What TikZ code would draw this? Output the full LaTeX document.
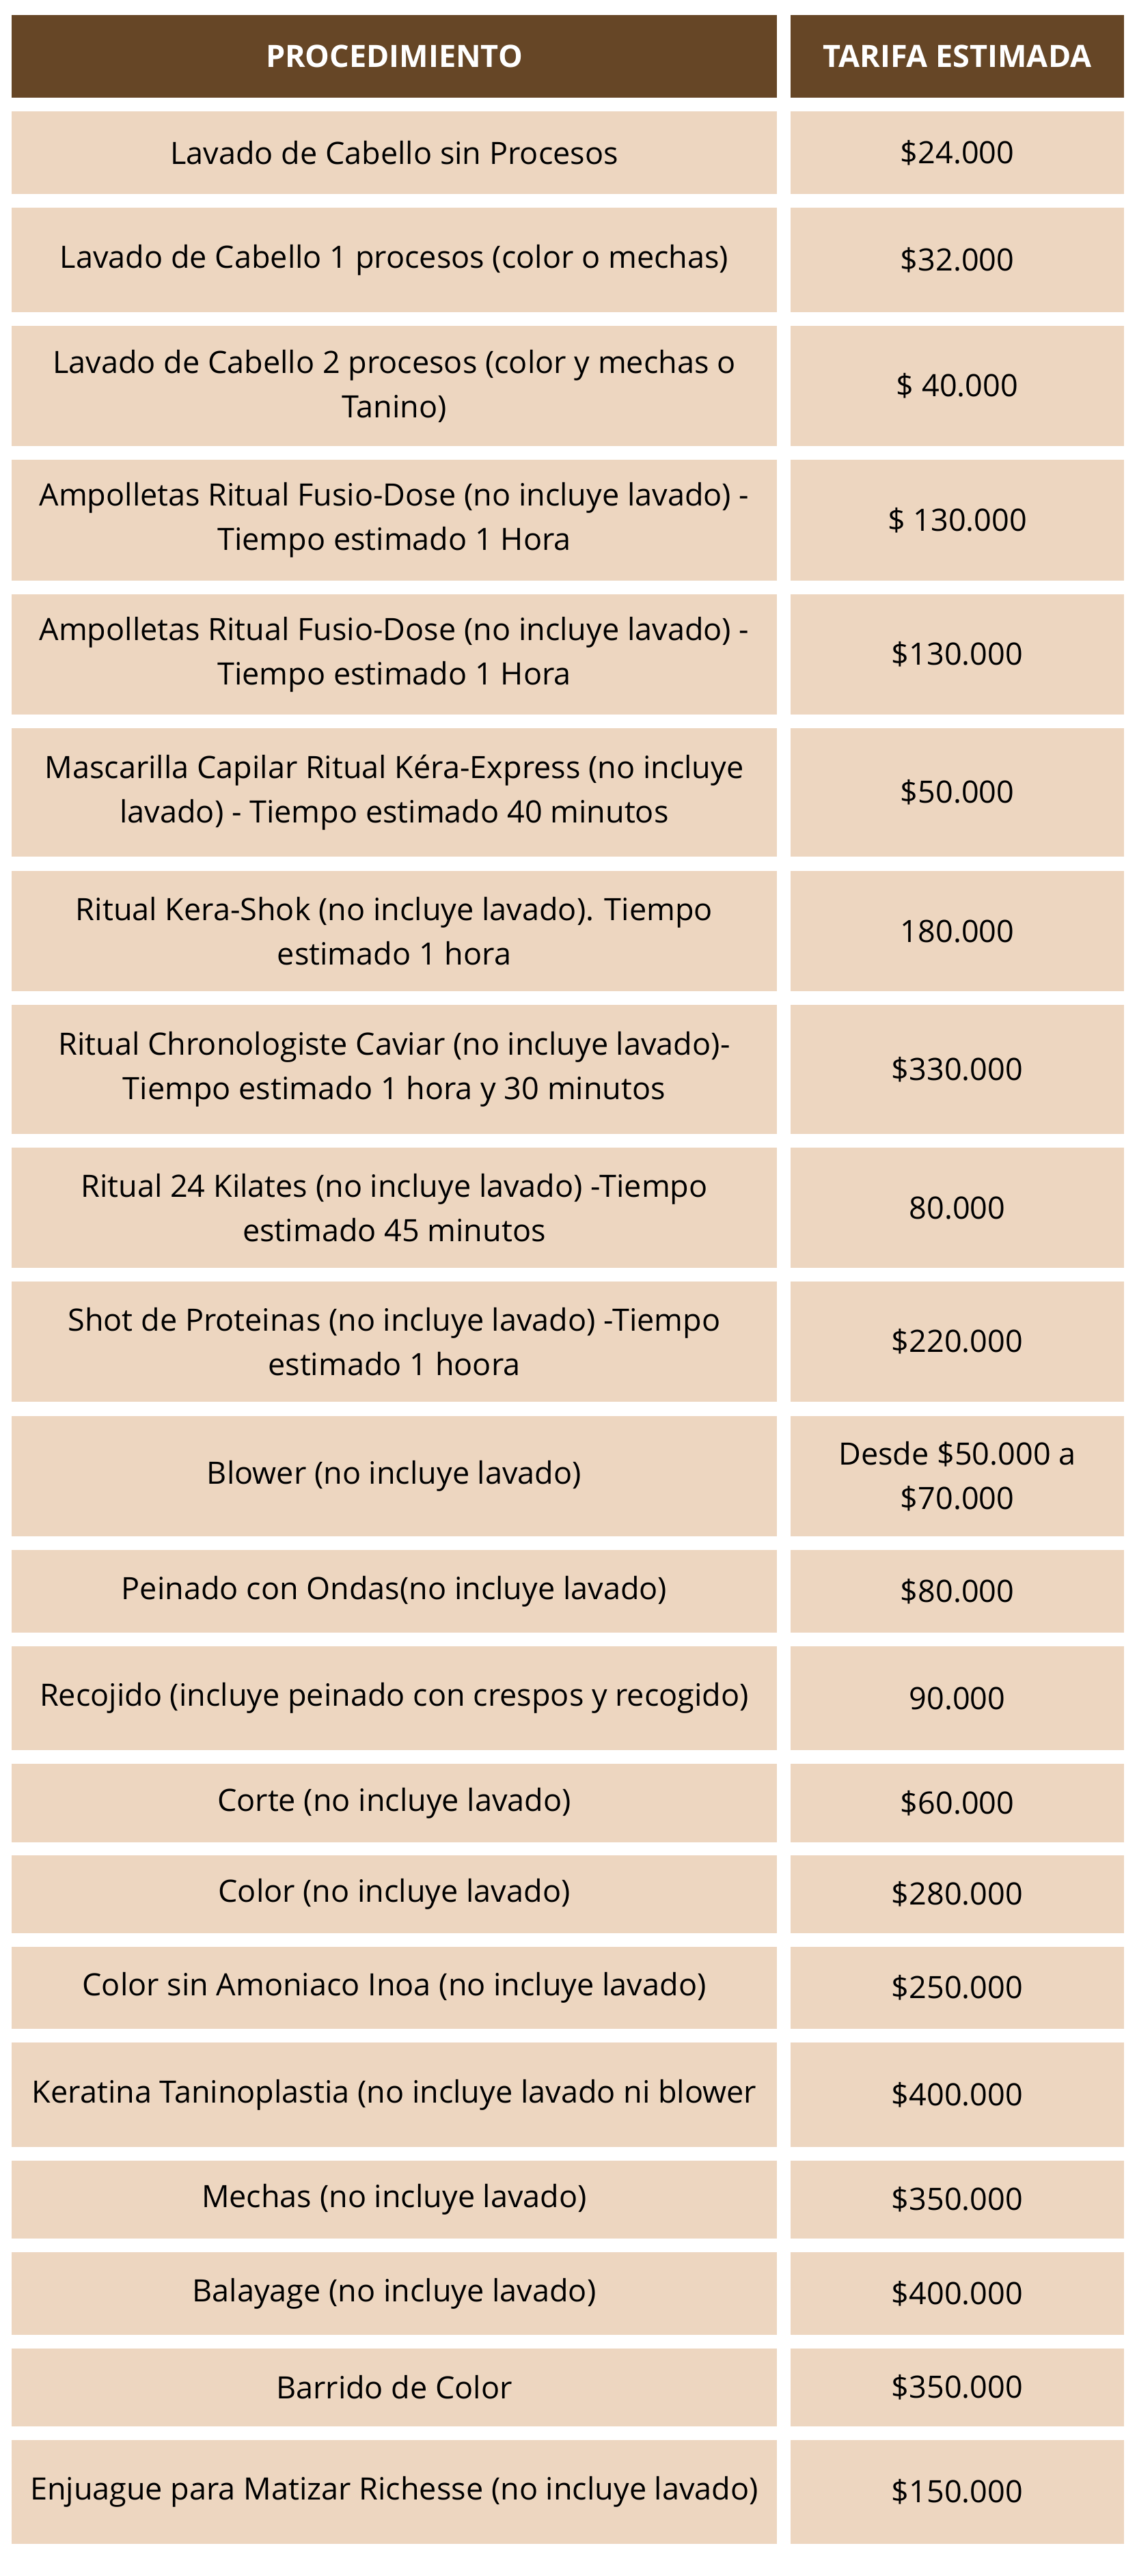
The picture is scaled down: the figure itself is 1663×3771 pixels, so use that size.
\documentclass[tikz,border=0pt]{standalone}
\usepackage{fontspec}
\setmainfont{Open Sans}
\definecolor{cafe}{HTML}{664626}
\definecolor{crema}{HTML}{EDD6C0}
\newcommand{\celdafont}{\fontsize{45}{65}\selectfont}

\begin{document}
\begin{tikzpicture}[x=1pt, y=-1pt,
	celda/.style={fill=crema, inner sep=0pt, align=center, font=\celdafont, text=black},
	cabeza/.style={fill=cafe, inner sep=0pt, align=center, font=\celdafont\bfseries, text=white},
	izq/.style={minimum width=1120pt},
	der/.style={minimum width=488pt}]
	\useasboundingbox (0,0) rectangle (1663,3771);
	% encabezado
	\node [cabeza, izq, minimum height=121pt] (p0) at (577,82.5) {PROCEDIMIENTO};
	\node [cabeza, der, minimum height=121pt] (t0) at (1401,82.5) {TARIFA ESTIMADA};
	% filas
	\node [celda, izq, minimum height=121pt] (p1) at (577,223.5)
	{Lavado de Cabello sin Procesos};
	\node [celda, der, minimum height=121pt] (t1) at (1401,223.5) {\$24.000};
	\node [celda, izq, minimum height=153pt] (p2) at (577,380.5)
	{Lavado de Cabello 1 procesos (color o mechas)};
	\node [celda, der, minimum height=153pt] (t2) at (1401,380.5) {\$32.000};
	\node [celda, izq, minimum height=176pt] (p3) at (577,565)
	{Lavado de Cabello 2 procesos (color y mechas o\\Tanino)};
	\node [celda, der, minimum height=176pt] (t3) at (1401,565) {\$ 40.000};
	\node [celda, izq, minimum height=177pt] (p4) at (577,761.5)
	{Ampolletas Ritual Fusio-Dose (no incluye lavado) -\\Tiempo estimado 1 Hora};
	\node [celda, der, minimum height=177pt] (t4) at (1401,761.5) {\$ 130.000};
	\node [celda, izq, minimum height=176pt] (p5) at (577,958)
	{Ampolletas Ritual Fusio-Dose (no incluye lavado) -\\Tiempo estimado 1 Hora};
	\node [celda, der, minimum height=176pt] (t5) at (1401,958) {\$130.000};
	\node [celda, izq, minimum height=188pt] (p6) at (577,1160)
	{Mascarilla Capilar Ritual Kéra-Express (no incluye\\lavado) - Tiempo estimado 40 minutos};
	\node [celda, der, minimum height=188pt] (t6) at (1401,1160) {\$50.000};
	\node [celda, izq, minimum height=176pt] (p7) at (577,1363)
	{Ritual Kera-Shok (no incluye lavado). Tiempo\\estimado 1 hora};
	\node [celda, der, minimum height=176pt] (t7) at (1401,1363) {180.000};
	\node [celda, izq, minimum height=189pt] (p8) at (577,1565.5)
	{Ritual Chronologiste Caviar (no incluye lavado)-\\Tiempo estimado 1 hora y 30 minutos};
	\node [celda, der, minimum height=189pt] (t8) at (1401,1565.5) {\$330.000};
	\node [celda, izq, minimum height=176pt] (p9) at (577,1768)
	{Ritual 24 Kilates (no incluye lavado) -Tiempo\\estimado 45 minutos};
	\node [celda, der, minimum height=176pt] (t9) at (1401,1768) {80.000};
	\node [celda, izq, minimum height=176pt] (p10) at (577,1964)
	{Shot de Proteinas (no incluye lavado) -Tiempo\\estimado 1 hoora};
	\node [celda, der, minimum height=176pt] (t10) at (1401,1964) {\$220.000};
	\node [celda, izq, minimum height=176pt] (p11) at (577,2161)
	{Blower (no incluye lavado)};
	\node [celda, der, minimum height=176pt] (t11) at (1401,2161) {Desde \$50.000 a\\\$70.000};
	\node [celda, izq, minimum height=121pt] (p12) at (577,2329.5)
	{Peinado con Ondas(no incluye lavado)};
	\node [celda, der, minimum height=121pt] (t12) at (1401,2329.5) {\$80.000};
	\node [celda, izq, minimum height=152pt] (p13) at (577,2486)
	{Recojido (incluye peinado con crespos y recogido)};
	\node [celda, der, minimum height=152pt] (t13) at (1401,2486) {90.000};
	\node [celda, izq, minimum height=115pt] (p14) at (577,2639.5)
	{Corte (no incluye lavado)};
	\node [celda, der, minimum height=115pt] (t14) at (1401,2639.5) {\$60.000};
	\node [celda, izq, minimum height=114pt] (p15) at (577,2773)
	{Color (no incluye lavado)};
	\node [celda, der, minimum height=114pt] (t15) at (1401,2773) {\$280.000};
	\node [celda, izq, minimum height=120pt] (p16) at (577,2910)
	{Color sin Amoniaco Inoa (no incluye lavado)};
	\node [celda, der, minimum height=120pt] (t16) at (1401,2910) {\$250.000};
	\node [celda, izq, minimum height=153pt] (p17) at (577,3066.5)
	{Keratina Taninoplastia (no incluye lavado ni blower};
	\node [celda, der, minimum height=153pt] (t17) at (1401,3066.5) {\$400.000};
	\node [celda, izq, minimum height=114pt] (p18) at (577,3220)
	{Mechas (no incluye lavado)};
	\node [celda, der, minimum height=114pt] (t18) at (1401,3220) {\$350.000};
	\node [celda, izq, minimum height=121pt] (p19) at (577,3357.5)
	{Balayage (no incluye lavado)};
	\node [celda, der, minimum height=121pt] (t19) at (1401,3357.5) {\$400.000};
	\node [celda, izq, minimum height=114pt] (p20) at (577,3495)
	{Barrido de Color};
	\node [celda, der, minimum height=114pt] (t20) at (1401,3495) {\$350.000};
	\node [celda, izq, minimum height=152pt] (p21) at (577,3648)
	{Enjuague para Matizar Richesse (no incluye lavado)};
	\node [celda, der, minimum height=152pt] (t21) at (1401,3648) {\$150.000};
\end{tikzpicture}
\end{document}
